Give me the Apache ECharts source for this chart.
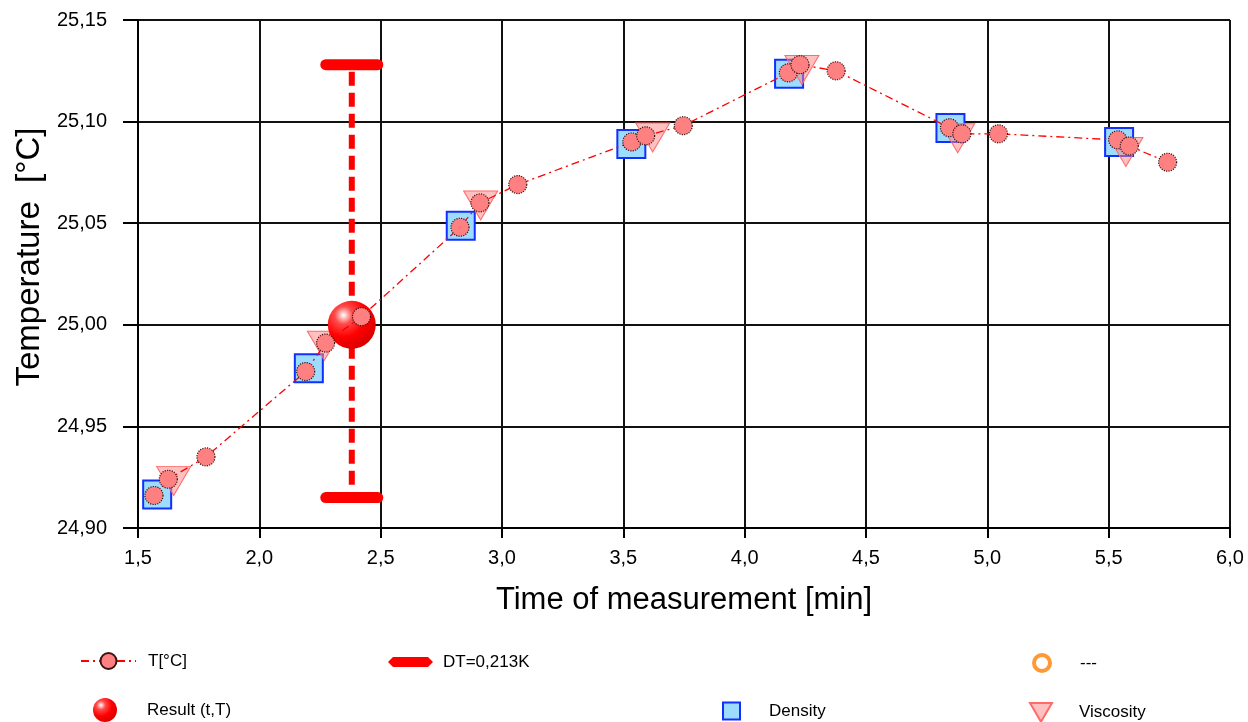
<!DOCTYPE html>
<html>
<head>
<meta charset="utf-8">
<script src="https://cdn.jsdelivr.net/npm/echarts@6/dist/echarts.min.js"></script>
<style>
html,body{margin:0;padding:0;background:#fff;}
#chart{width:1248px;height:722px;}
</style>
</head>
<body>
<div id="chart"></div>
<script>
// ---- data ----
const tempX = [1.566, 1.625, 1.780, 2.191, 2.273, 2.421, 2.827, 2.909, 3.065, 3.535, 3.592, 3.747, 4.180, 4.228, 4.377, 4.844, 4.895, 5.046, 5.537, 5.585, 5.743];
const tempY = [24.916, 24.924, 24.935, 24.977, 24.991, 25.004, 25.048, 25.060, 25.069, 25.090, 25.093, 25.098, 25.124, 25.128, 25.125, 25.097, 25.094, 25.094, 25.091, 25.088, 25.080];
const densityX = [1.579, 2.204, 2.830, 3.533, 4.183, 4.848, 5.543];
const densityY = [24.9165, 24.9786, 25.0487, 25.089, 25.1235, 25.0968, 25.0899];
const viscX = [1.647, 2.268, 2.912, 3.621, 4.236, 4.878, 5.571];
const viscY = [24.9232, 24.9897, 25.0587, 25.0922, 25.1254, 25.0918, 25.085];
const resultX = [2.381];
const resultT = [25.000];
const dtLow = [24.915];
const dtHigh = [25.128];
const xTicks = {min: 1.5, max: 6.0, step: 0.5};
const yTicks = {min: 24.90, max: 25.15, step: 0.05};
const names = {t: 'T[°C]', dt: 'DT=0,213K', none: '---', result: 'Result (t,T)', density: 'Density', visc: 'Viscosity'};

// ---- chart ----
const FONT = "'Liberation Sans', Arial, sans-serif";
const zip = (a, b) => a.map((v, i) => [v, b[i]]);
const chart = echarts.init(document.getElementById('chart'), null, {renderer: 'canvas'});

const legendBase = {
  orient: 'horizontal', padding: 0, itemGap: 0,
  textStyle: {fontFamily: FONT, fontSize: 17, color: '#000', lineHeight: 20}
};
function lg(o) { return Object.assign({}, legendBase, o, {textStyle: Object.assign({}, legendBase.textStyle, o.textStyle || {})}); }

const option = {
  animation: false,
  backgroundColor: '#fff',
  grid: {left: 138, right: 18, top: 20, bottom: 194, containLabel: false},
  xAxis: {
    type: 'value', min: xTicks.min, max: xTicks.max, interval: xTicks.step,
    name: 'Time of measurement [min]', nameLocation: 'middle', nameGap: 57,
    nameTextStyle: {fontFamily: FONT, fontSize: 31, color: '#000'},
    axisLine: {show: true, onZero: false, lineStyle: {color: '#000', width: 2}},
    axisTick: {show: true, length: 10, lineStyle: {color: '#000', width: 2}},
    axisLabel: {margin: 20, fontFamily: FONT, fontSize: 20, color: '#000',
      formatter: v => v.toFixed(1).replace('.', ',')},
    splitLine: {show: true, lineStyle: {color: '#111', width: 2}}
  },
  yAxis: {
    type: 'value', min: yTicks.min, max: yTicks.max, interval: yTicks.step,
    name: 'Temperature  [°C]', nameLocation: 'middle', nameGap: 92,
    nameTextStyle: {fontFamily: FONT, fontSize: 33, color: '#000', padding: [0, 0, 0, 34]},
    axisLine: {show: true, onZero: false, lineStyle: {color: '#000', width: 2}},
    axisTick: {show: true, length: 15, lineStyle: {color: '#000', width: 2}},
    axisLabel: {margin: 31, fontFamily: FONT, fontSize: 20, color: '#000',
      formatter: v => v.toFixed(2).replace('.', ',')},
    splitLine: {show: true, lineStyle: {color: '#111', width: 2}}
  },
  legend: [
    lg({left: 80, top: 651, itemWidth: 55, itemHeight: 20, data: [names.t], textStyle: {padding: [0, 0, 0, 7]}}),
    lg({left: 388, top: 652, itemWidth: 45, itemHeight: 10,
        data: [{name: names.dt, icon: 'path://M0,5 L5,0 L40,0 L45,5 L40,10 L5,10 Z', itemStyle: {color: '#ff0000'}}],
        textStyle: {padding: [0, 0, 0, 5]}}),
    lg({left: 1032, top: 653, itemWidth: 16, itemHeight: 16,
        data: [{name: names.none, icon: 'circle', itemStyle: {color: '#fff', borderColor: '#ff8000', borderWidth: 4}}],
        textStyle: {padding: [0, 0, 0, 25]}}),
    lg({left: 93, top: 698, itemWidth: 24, itemHeight: 24, data: [names.result], textStyle: {padding: [0, 0, 0, 25]}}),
    lg({left: 722, top: 701, itemWidth: 17, itemHeight: 17, data: [names.density], textStyle: {padding: [0, 0, 0, 24]}}),
    lg({left: 1029, top: 702, itemWidth: 22, itemHeight: 19, data: [names.visc], textStyle: {padding: [0, 0, 0, 22]}})
  ],
  series: [
    {
      name: names.dt, type: 'custom', z: 2,
      data: [[resultX[0], dtLow[0], dtHigh[0]]],
      itemStyle: {color: '#ff0000'},
      renderItem: function (params, api) {
        const x = api.value(0), lo = api.value(1), hi = api.value(2);
        const pT = api.coord([x, hi]);
        const pB = api.coord([x, lo]);
        const hw = 26;
        return {
          type: 'group',
          children: [
            {type: 'line', shape: {x1: pT[0], y1: pT[1] + 7, x2: pB[0], y2: pB[1] - 6},
             style: {stroke: '#ff0000', lineWidth: 6, lineDash: [14, 7]}},
            {type: 'line', shape: {x1: pT[0] - hw, y1: pT[1], x2: pT[0] + hw, y2: pT[1]},
             style: {stroke: '#ff0000', lineWidth: 11, lineCap: 'round'}},
            {type: 'line', shape: {x1: pB[0] - hw, y1: pB[1], x2: pB[0] + hw, y2: pB[1]},
             style: {stroke: '#ff0000', lineWidth: 11, lineCap: 'round'}}
          ]
        };
      }
    },
    {
      name: names.none, type: 'scatter', data: [], symbol: 'emptyCircle',
      itemStyle: {color: '#ff8000', borderWidth: 4}
    },
    {
      name: names.density, type: 'scatter', z: 3,
      data: zip(densityX, densityY),
      symbol: 'rect', symbolSize: 28,
      itemStyle: {color: '#9ddcff', borderColor: '#1030ff', borderWidth: 2, opacity: 1}
    },
    {
      name: names.visc, type: 'scatter', z: 4,
      data: zip(viscX, viscY),
      symbol: 'path://M0,0 L34,0 L17,29 Z', symbolSize: [34, 29],
      itemStyle: {color: 'rgba(255,130,130,0.5)', borderColor: '#ff6a6a', borderWidth: 1, opacity: 1}
    },
    {
      name: names.result, type: 'scatter', z: 5,
      data: zip(resultX, resultT),
      symbol: 'circle', symbolSize: 48,
      itemStyle: {
        opacity: 1,
        color: {type: 'radial', x: 0.33, y: 0.3, r: 0.75,
          colorStops: [{offset: 0, color: '#ffffff'}, {offset: 0.25, color: '#ff4a4a'},
                       {offset: 0.6, color: '#ff0000'}, {offset: 1, color: '#d80000'}]}
      }
    },
    {
      name: names.t, type: 'line', z: 6,
      data: zip(tempX, tempY),
      symbol: 'circle', symbolSize: 18, showAllSymbol: true,
      lineStyle: {color: '#ff0000', width: 1.3, type: [8, 4, 2, 4]},
      itemStyle: {color: '#ff8080', borderColor: '#3a1414', borderWidth: 1.2, borderType: 'dotted'}
    }
  ]
};
chart.setOption(option);
</script>
</body>
</html>
